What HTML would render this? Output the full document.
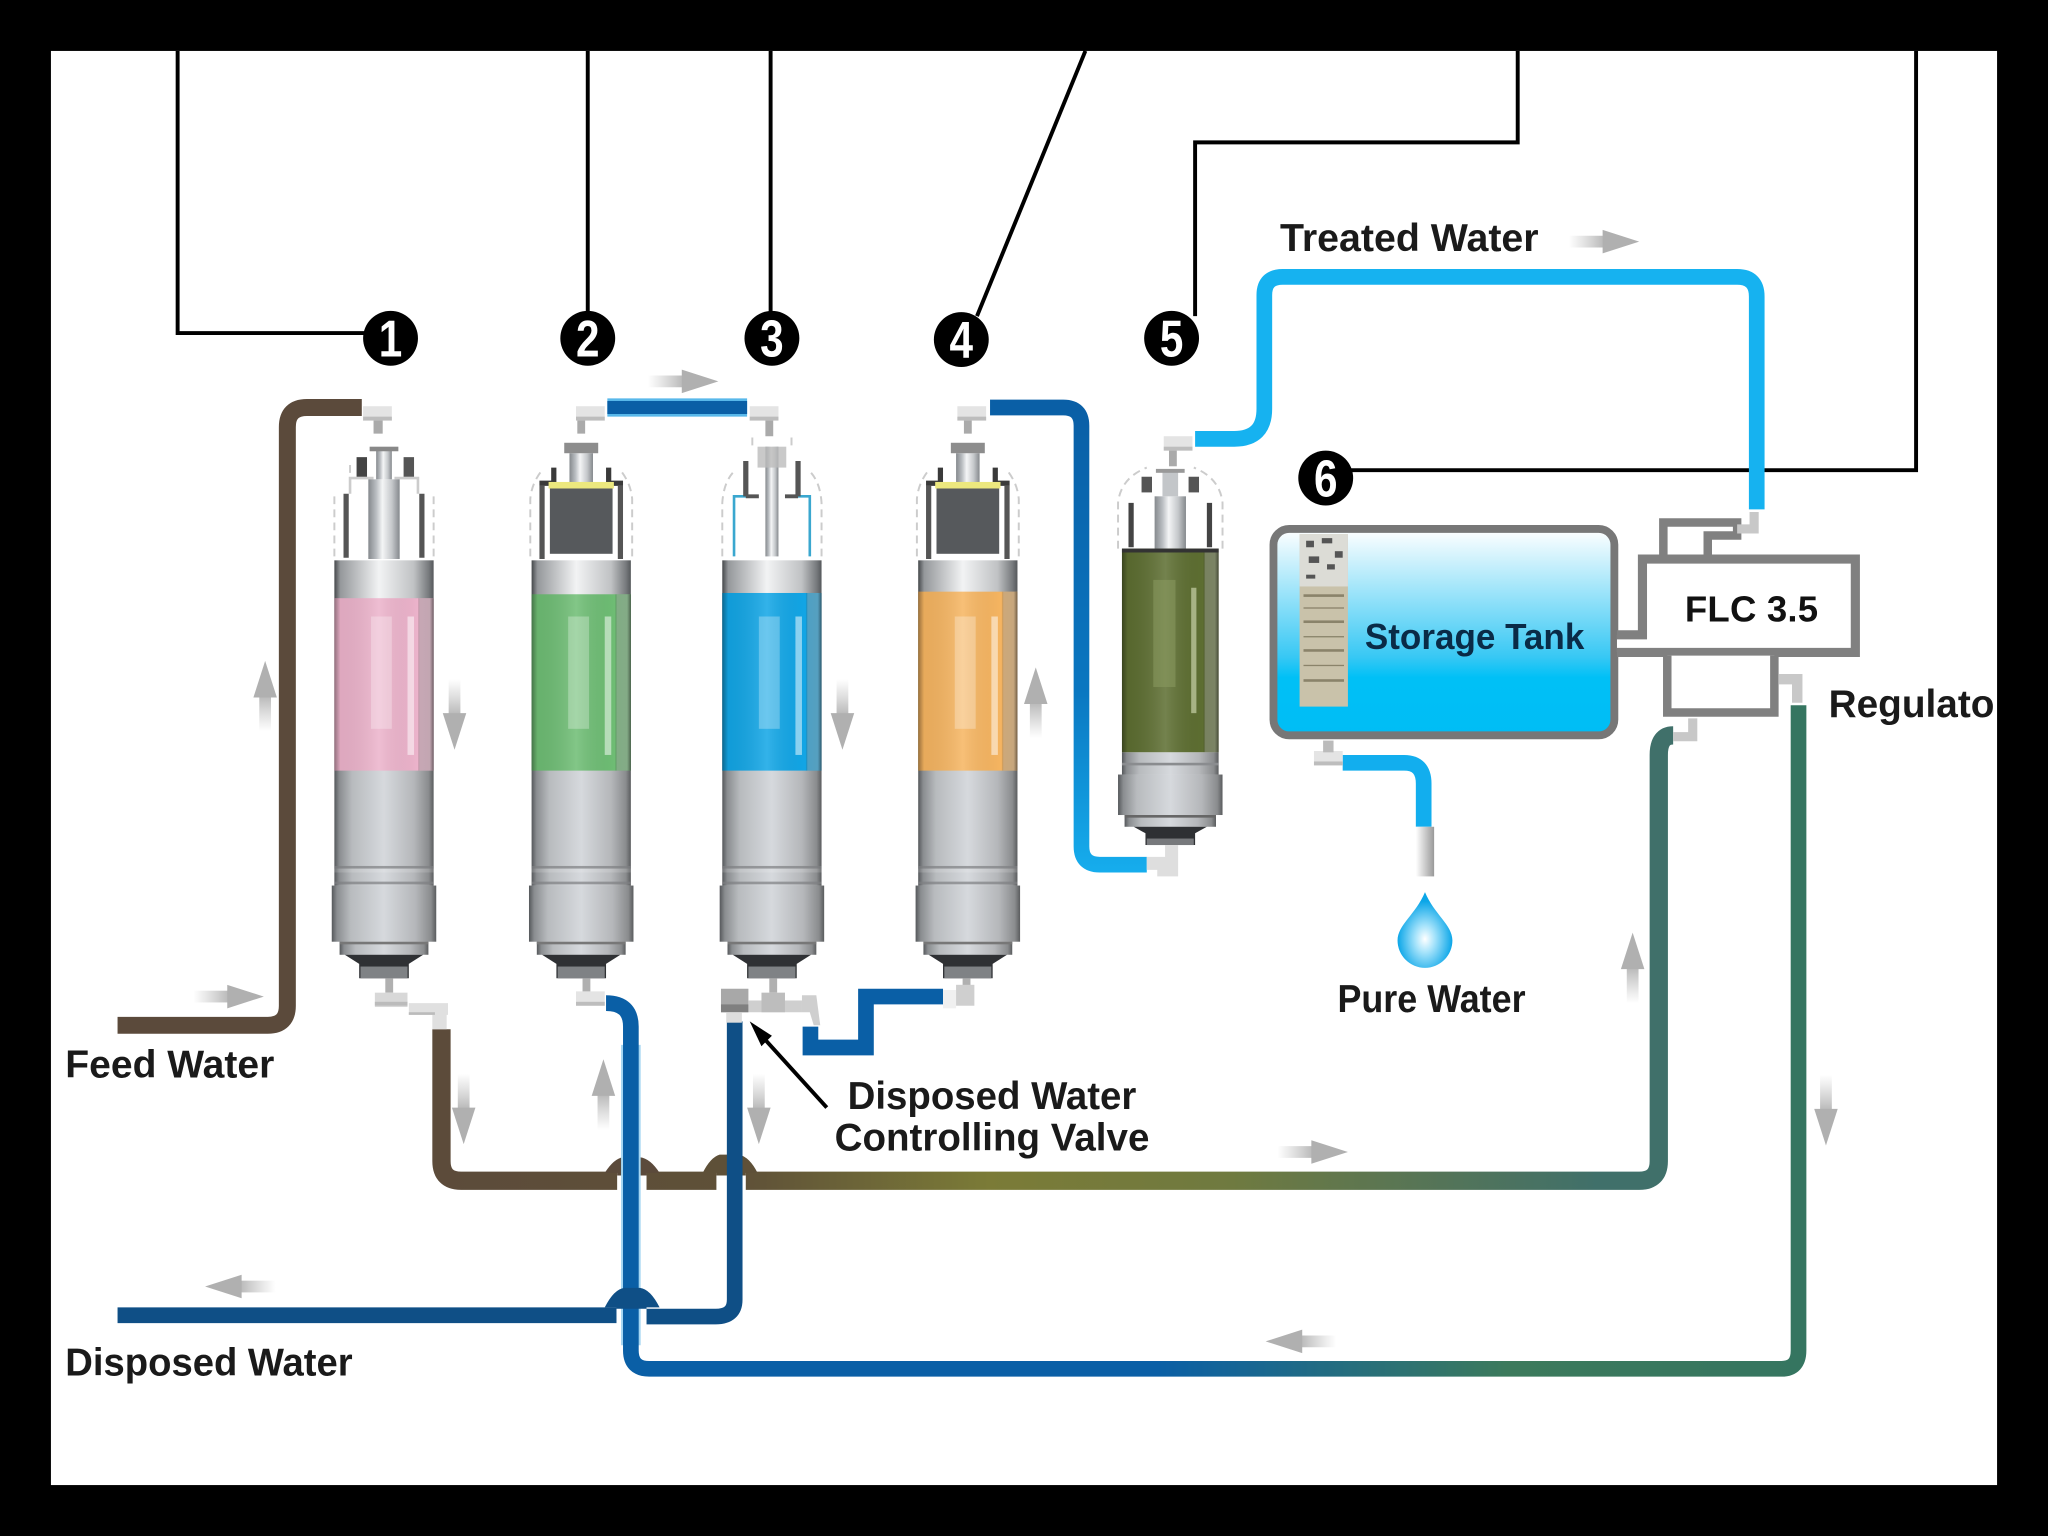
<!DOCTYPE html>
<html><head><meta charset="utf-8"><title>Water Filtration Diagram</title>
<style>html,body{margin:0;padding:0;background:#000;width:2048px;height:1536px;overflow:hidden}svg{display:block}
text{font-family:"Liberation Sans",sans-serif;font-weight:bold}</style></head>
<body>
<svg xmlns="http://www.w3.org/2000/svg" width="2048" height="1536" viewBox="0 0 1568 1176">
<defs>
<linearGradient id="body" x1="0" x2="1" y1="0" y2="0"><stop offset="0" stop-color="#55585b"/><stop offset=".05" stop-color="#8a8d90"/><stop offset=".18" stop-color="#b8bbbe"/><stop offset=".5" stop-color="#d6d9dd"/><stop offset=".8" stop-color="#b5b7ba"/><stop offset=".95" stop-color="#8a8c8e"/><stop offset="1" stop-color="#5a5c5e"/></linearGradient>
<linearGradient id="topb" x1="0" x2="1" y1="0" y2="0"><stop offset="0" stop-color="#45484b"/><stop offset=".06" stop-color="#95989b"/><stop offset=".45" stop-color="#f2f3f4"/><stop offset=".8" stop-color="#c0c2c4"/><stop offset=".95" stop-color="#777a7d"/><stop offset="1" stop-color="#55585b"/></linearGradient>
<linearGradient id="stemg" x1="0" x2="1" y1="0" y2="0"><stop offset="0" stop-color="#85898d"/><stop offset=".25" stop-color="#b9bdc1"/><stop offset=".45" stop-color="#f4f5f6"/><stop offset=".75" stop-color="#c5c8cb"/><stop offset="1" stop-color="#85898d"/></linearGradient>
<linearGradient id="shade" x1="0" x2="1" y1="0" y2="0"><stop offset="0" stop-color="#000" stop-opacity=".38"/><stop offset=".06" stop-color="#000" stop-opacity=".06"/><stop offset=".45" stop-color="#fff" stop-opacity=".14"/><stop offset=".84" stop-color="#000" stop-opacity="0"/><stop offset=".86" stop-color="#999" stop-opacity=".45"/><stop offset=".96" stop-color="#999" stop-opacity=".5"/><stop offset="1" stop-color="#333" stop-opacity=".7"/></linearGradient>
<linearGradient id="tank" x1="0" x2="0" y1="0" y2="1"><stop offset="0" stop-color="#fff"/><stop offset=".62" stop-color="#38c8f4"/><stop offset=".72" stop-color="#00c0f6"/><stop offset="1" stop-color="#00bdf5"/></linearGradient>
<linearGradient id="brownPipe" gradientUnits="userSpaceOnUse" x1="338" y1="0" x2="1270" y2="0"><stop offset="0" stop-color="#5c4b3a"/><stop offset=".25" stop-color="#5f5138"/><stop offset=".45" stop-color="#7b7b37"/><stop offset=".65" stop-color="#6f7a40"/><stop offset=".95" stop-color="#40706a"/><stop offset="1" stop-color="#40706a"/></linearGradient>
<linearGradient id="bluePipe" gradientUnits="userSpaceOnUse" x1="482" y1="0" x2="1378" y2="0"><stop offset="0" stop-color="#0a5fa6"/><stop offset=".45" stop-color="#0a5fa6"/><stop offset=".75" stop-color="#3c7a5c"/><stop offset="1" stop-color="#357560"/></linearGradient>
<linearGradient id="b45" gradientUnits="userSpaceOnUse" x1="0" y1="312" x2="0" y2="670"><stop offset="0" stop-color="#0a5fa6"/><stop offset=".6" stop-color="#0a76c0"/><stop offset="1" stop-color="#16aeee"/></linearGradient>
<linearGradient id="tail" x1="0" x2="1" y1="0" y2="0"><stop offset="0" stop-color="#bbb" stop-opacity="0"/><stop offset="1" stop-color="#b0b0b0"/></linearGradient>
<radialGradient id="drop" cx=".5" cy=".62" r=".5"><stop offset="0" stop-color="#fff"/><stop offset=".35" stop-color="#a8e4fb"/><stop offset="1" stop-color="#0ba6e8"/></radialGradient>
<linearGradient id="spout" x1="0" x2="1" y1="0" y2="0"><stop offset="0" stop-color="#fff"/><stop offset="1" stop-color="#999"/></linearGradient>

<g id="arrow"><rect x="-30" y="-4.5" width="30" height="9" fill="url(#tail)"/><path d="M-4-9 L24 0 L-4 9Z" fill="#b0b0b0"/></g>
<g id="fit"><rect x="-11" y="-6" width="22" height="11" fill="#e4e4e4"/><rect x="-11" y="2" width="22" height="3" fill="#bdbdbd"/></g>

<g id="cyl">
 <rect x="-38" y="429" width="76" height="40" fill="url(#topb)"/>
 <rect x="-38" y="469" width="76" height="209" fill="url(#body)"/>
 <rect x="-38" y="663" width="76" height="2" fill="#7d7f82" opacity=".7"/>
 <rect x="-38" y="665" width="76" height="3" fill="#fff" opacity=".15"/>
 <rect x="-38" y="675" width="76" height="2" fill="#7d7f82" opacity=".7"/>
 <rect x="-40" y="678" width="80" height="43" fill="url(#body)"/>
 <rect x="-34" y="721" width="68" height="10" fill="url(#body)"/>
 <rect x="-34" y="721" width="68" height="2" fill="#777"/>
 <path d="M-30 731H30L19 738V749H-19V738Z" fill="#2f3134"/>
 <rect x="-18" y="740" width="36" height="9" fill="#7f8285"/>
</g>
<g id="domeA" fill="none">
 <path d="M-38 426V380M38 426V380M-26 362L-26 352" stroke="#ccc" stroke-width="1.5" stroke-dasharray="6 4"/>
 <path d="M-26 378V366H-8M26 378V366H8" stroke="#ccc" stroke-width="2"/>
 <path d="M-29 378V427M29 378V427" stroke="#555" stroke-width="4"/>
 <rect x="-21" y="350" width="8" height="15" fill="#444"/><rect x="15" y="350" width="8" height="15" fill="#555"/>
 <rect x="-6" y="345" width="12" height="22" fill="url(#stemg)"/>
 <rect x="-11" y="342" width="22" height="3.5" fill="#888"/>
 <rect x="-12" y="367" width="24" height="61" fill="url(#stemg)"/>
</g>
<g id="domeB" fill="none">
 <path d="M-39 426V382Q-38 370-30 360M39 426V382Q38 370 30 360" stroke="#ccc" stroke-width="1.5" stroke-dasharray="6 4"/>
 <path d="M-30 372V428M30 372V428" stroke="#555" stroke-width="4"/>
 <path d="M-32 370H-21V358M32 370H21V358" stroke="#3a3a3a" stroke-width="4"/>
 <rect x="-9" y="347" width="18" height="24" fill="url(#stemg)"/>
 <rect x="-13" y="339" width="26" height="8" fill="#8d8d8d"/>
 <rect x="-25" y="369" width="50" height="5" fill="#ece87e"/>
 <rect x="-24" y="374" width="48" height="50" fill="#56595c"/>
</g>
<g id="domeC" fill="none">
 <path d="M-38 426V385Q-37 370-30 362M38 426V385Q37 370 30 362M-15 335V345M15 335V345" stroke="#ccc" stroke-width="1.5" stroke-dasharray="6 4"/>
 <path d="M-29 426V380H-19M29 426V380H19" stroke="#3aa7cf" stroke-width="2"/>
 <path d="M-20 380V353M20 380V353" stroke="#555" stroke-width="4"/><path d="M-20 380H-10M20 380H10" stroke="#555" stroke-width="3"/>
 <rect x="-5" y="342" width="10" height="84" fill="url(#stemg)"/>
 <rect x="-11" y="342" width="22" height="16" fill="#bbb" opacity=".8"/>
</g>
<g id="lbl" fill="#fff">
 <rect x="18" y="472" width="5" height="106" opacity=".5"/><rect x="-10" y="472" width="16" height="86" opacity=".28"/>
</g>
</defs>

<rect width="1568" height="1176" fill="#000"/>
<rect x="39" y="39" width="1490" height="1098" fill="#fff"/>

<!-- leader lines -->
<g fill="none" stroke="#000" stroke-width="3">
 <path d="M136 39V255H282"/>
 <path d="M450 39V242"/>
 <path d="M590 39V242"/>
 <path d="M831 39L748 242"/>
 <path d="M1162 39V109H915V242"/>
 <path d="M1467 39V360H1032"/>
</g>

<!-- filters -->
<g transform="translate(294,0)">
 <use href="#domeA"/><use href="#cyl"/>
 <rect x="-38" y="458" width="76" height="132" fill="#ecb3cb"/><rect x="-38" y="458" width="76" height="132" fill="url(#shade)"/>
 <use href="#lbl"/>
</g>
<g transform="translate(445,0)">
 <use href="#domeB"/><use href="#cyl"/>
 <rect x="-38" y="455" width="76" height="135" fill="#6ebd74"/><rect x="-38" y="455" width="76" height="135" fill="url(#shade)"/>
 <use href="#lbl"/>
</g>
<g transform="translate(591,0)">
 <use href="#domeC"/><use href="#cyl"/>
 <rect x="-38" y="454" width="76" height="136" fill="#12a6e6"/><rect x="-38" y="454" width="76" height="136" fill="url(#shade)"/>
 <use href="#lbl"/>
</g>
<g transform="translate(741,0)">
 <use href="#domeB"/><use href="#cyl"/>
 <rect x="-38" y="453" width="76" height="137" fill="#f6b561"/><rect x="-38" y="453" width="76" height="137" fill="url(#shade)"/>
 <use href="#lbl"/>
</g>
<!-- filter 5 -->
<g transform="translate(896,0)">
 <path d="M-40 420V385Q-38 366-18 358M40 420V385Q38 366 18 358" fill="none" stroke="#ccc" stroke-width="1.5" stroke-dasharray="6 4"/>
 <path d="M-30 385V419M30 385V419" stroke="#444" stroke-width="4"/>
 <rect x="-12" y="380" width="24" height="40" fill="url(#stemg)"/><rect x="-6" y="360" width="12" height="20" fill="#c3c6c9"/>
 <rect x="-11" y="359" width="22" height="3" fill="#999"/>
 <rect x="-22" y="365" width="8" height="12" fill="#555"/><rect x="14" y="365" width="8" height="12" fill="#555"/>
 <rect x="-37" y="420" width="74" height="156" fill="#5d6e31"/><rect x="-37" y="420" width="74" height="156" fill="url(#shade)"/>
 <rect x="-37" y="420" width="74" height="3" fill="#333"/>
 <rect x="-13" y="444" width="17" height="82" fill="#8a9a60" opacity=".55"/>
 <rect x="16" y="450" width="4" height="96" fill="#c8d2a8" opacity=".7"/>
 <rect x="-37" y="576" width="74" height="17" fill="url(#body)"/>
 <rect x="-37" y="584" width="74" height="2" fill="#8a8c8f"/>
 <rect x="-40" y="593" width="80" height="31" fill="url(#body)"/>
 <rect x="-35" y="624" width="70" height="9" fill="url(#body)"/>
 <rect x="-35" y="624" width="70" height="2" fill="#666"/>
 <path d="M-28 633H28L19 638V647H-19V638Z" fill="#2e3033"/>
 <rect x="-18" y="642" width="36" height="5" fill="#77797c"/>
</g>

<!-- top fittings -->
<use href="#fit" transform="translate(289,317)"/><rect x="286" y="322" width="7" height="10" fill="#aaa"/>
<use href="#fit" transform="translate(452,317)"/><rect x="442" y="322" width="6" height="10" fill="#aaa"/>
<use href="#fit" transform="translate(585,317)"/><rect x="586" y="322" width="6" height="12" fill="#aaa"/>
<use href="#fit" transform="translate(744,317)"/><rect x="738" y="322" width="6" height="10" fill="#aaa"/>
<use href="#fit" transform="translate(902,340)"/><rect x="895" y="345" width="6" height="12" fill="#aaa"/>

<!-- pipes -->
<g fill="none" stroke-linejoin="round">
 <path d="M90 785H205Q220 785 220 770V327Q220 312 235 312H277" stroke="#5b4a3b" stroke-width="13"/>
 <path d="M465 312H572" stroke="#58b8ea" stroke-width="14"/><path d="M465 312H572" stroke="#0a5fa6" stroke-width="10"/>
 <path d="M758 312H814Q828 312 828 326V648Q828 662 842 662H878" stroke="url(#b45)" stroke-width="12"/>
 <path d="M915 336H945Q968 336 968 313V226Q968 212 982 212H1330Q1345 212 1345 227V390" stroke="#16b2f0" stroke-width="12"/>
 <path d="M1028 584H1075Q1090 584 1090 600V633" stroke="#12aeee" stroke-width="12"/>
 <path d="M338 788V889Q338 904 353 904H472.5M495 904H548.5M571 904H1255Q1270 904 1270 889V578Q1270 563 1281 563" stroke="url(#brownPipe)" stroke-width="14"/>
</g>
<path d="M463 898Q470 887 477 886H490Q498 887 505 898H495V900H472.5V898Z" fill="#5b4a3b"/>
<path d="M538 898Q544 886 551 884H566Q574 886 580 898H571V900H548.5V898Z" fill="#5e5038"/>
<g fill="none" stroke-linejoin="round">
 <path d="M90 1007H472M495 1008H548Q562.5 1008 562.5 995V782" stroke="#0f4f86" stroke-width="12"/>
 <path d="M483 800V1030" stroke="#a5d6f2" stroke-width="15"/>
 <path d="M464 768Q483 768 483 786V1034Q483 1048 497 1048H1364Q1377 1048 1377 1034V540" stroke="url(#bluePipe)" stroke-width="12"/>
</g>
<path d="M463 1001Q470 987 478 986H490Q498 987 505 1001H495V1002H472V1001Z" fill="#0f4f86"/>
<path d="M620.5 786V802H663V763H722" fill="none" stroke="#0a5fa6" stroke-width="12"/>
<rect x="1084" y="633" width="14" height="38" fill="url(#spout)"/>

<!-- bottom fittings -->
<rect x="295" y="749" width="6" height="11" fill="#b0b0b0"/>
<rect x="287" y="760" width="25" height="11" fill="#d8d8d8"/><rect x="287" y="767" width="25" height="3" fill="#bbb"/>
<path d="M313 768H343V777H342V788H331V777H313Z" fill="#e0e0e0"/><rect x="313" y="775" width="20" height="2" fill="#bbb"/>
<rect x="446" y="749" width="6" height="11" fill="#b0b0b0"/>
<use href="#fit" transform="translate(452,765)"/>
<rect x="552" y="757" width="21" height="18" fill="#a8a8a8"/><rect x="552" y="769" width="21" height="6" fill="#808080"/><rect x="556" y="775" width="12" height="8" fill="#ddd"/>
<rect x="589" y="749" width="6" height="11" fill="#b0b0b0"/>
<rect x="573" y="766" width="41" height="9" fill="#cfcfcf"/><rect x="583" y="760" width="18" height="15" fill="#bdbdbd"/>
<path d="M614 762H625L628 785H623L620 775H614Z" fill="#cfcfcf"/>
<rect x="737" y="749" width="6" height="8" fill="#b0b0b0"/>
<rect x="722" y="758" width="10" height="14" fill="#f0f0f0"/><rect x="732" y="754" width="14" height="16" fill="#cfcfcf"/>
<path d="M878 656H892V647H902V671H886V666H878Z" fill="#dedede"/>

<!-- tank -->
<rect x="975" y="405" width="261" height="158" rx="12" fill="url(#tank)" stroke="#777" stroke-width="6"/>
<rect x="995" y="409" width="37" height="132" fill="#c9c2aa"/>
<rect x="995" y="409" width="37" height="40" fill="#dcdcd6"/>
<g fill="#555"><rect x="1000" y="414" width="6" height="5"/><rect x="1012" y="412" width="8" height="4"/><rect x="1022" y="422" width="6" height="5"/><rect x="1002" y="426" width="8" height="5"/><rect x="1016" y="432" width="6" height="4"/><rect x="1000" y="440" width="7" height="3"/></g>
<g fill="#8a836a"><rect x="998" y="455" width="31" height="2"/><rect x="998" y="465" width="31" height="1"/><rect x="998" y="475" width="31" height="2"/><rect x="998" y="487" width="31" height="1"/><rect x="998" y="497" width="31" height="2"/><rect x="998" y="509" width="31" height="1"/><rect x="998" y="520" width="31" height="2"/></g>
<text x="1045" y="497" font-size="28" fill="#0a2b47" textLength="168" lengthAdjust="spacingAndGlyphs">Storage Tank</text>

<!-- FLC -->
<path d="M1273.5 426V400H1330V410H1307.5V426" fill="none" stroke="#808080" stroke-width="6.5"/>
<path d="M1238 486H1257.5V428H1420.5V499.5H1238" fill="#fff" stroke="#808080" stroke-width="7"/>
<path d="M1276.5 502V545.5H1358.5V502" fill="#fff" stroke="#808080" stroke-width="6.5"/>
<text x="1290" y="476" font-size="28" fill="#111" textLength="102" lengthAdjust="spacing">FLC 3.5</text>
<path d="M1330 405H1343V392" fill="none" stroke="#c8c8c8" stroke-width="7"/>
<path d="M1362 520H1376V538" fill="none" stroke="#c8c8c8" stroke-width="8"/>
<path d="M1281 564H1296V550" fill="none" stroke="#c8c8c8" stroke-width="7"/>
<use href="#fit" transform="translate(1017,581)"/><rect x="1013" y="567" width="8" height="9" fill="#bbb"/>
<path d="M1091 683C1084 700 1070 708 1070 720A21 21 0 0 0 1112 720C1112 708 1098 700 1091 683Z" fill="url(#drop)"/>

<!-- labels -->
<g fill="#1a1a1a" font-size="30">
 <text x="980" y="192" textLength="198" lengthAdjust="spacingAndGlyphs">Treated Water</text>
 <text x="50" y="825" textLength="160" lengthAdjust="spacingAndGlyphs">Feed Water</text>
 <text x="50" y="1053" textLength="220" lengthAdjust="spacingAndGlyphs">Disposed Water</text>
 <text x="649" y="849" textLength="221" lengthAdjust="spacingAndGlyphs">Disposed Water</text>
 <text x="639" y="881" textLength="241" lengthAdjust="spacingAndGlyphs">Controlling Valve</text>
 <text x="1024" y="775" textLength="144" lengthAdjust="spacingAndGlyphs">Pure Water</text>
 <text x="1400" y="549" textLength="127" lengthAdjust="spacingAndGlyphs">Regulato</text>
</g>

<!-- numbers -->
<g fill="#000">
 <ellipse cx="299" cy="259" rx="21" ry="21"/><ellipse cx="450" cy="259" rx="21" ry="21"/><ellipse cx="591" cy="259" rx="21" ry="21"/><ellipse cx="736" cy="260" rx="21" ry="21"/><ellipse cx="897" cy="259" rx="21" ry="21"/><ellipse cx="1015" cy="366" rx="21" ry="21"/>
</g>
<g fill="#fff" font-size="40" text-anchor="middle">
 <text x="299" y="273" textLength="18" lengthAdjust="spacingAndGlyphs">1</text><text x="450" y="273" textLength="18" lengthAdjust="spacingAndGlyphs">2</text><text x="591" y="273" textLength="18" lengthAdjust="spacingAndGlyphs">3</text><text x="736" y="274" textLength="18" lengthAdjust="spacingAndGlyphs">4</text><text x="897" y="273" textLength="18" lengthAdjust="spacingAndGlyphs">5</text><text x="1015" y="380" textLength="18" lengthAdjust="spacingAndGlyphs">6</text>
</g>

<!-- grey arrows -->
<use href="#arrow" transform="translate(1231,185)"/>
<use href="#arrow" transform="translate(526,292)"/>
<use href="#arrow" transform="translate(178,763)"/>
<use href="#arrow" transform="translate(1008,882)"/>
<use href="#arrow" transform="translate(181,985) rotate(180)"/>
<use href="#arrow" transform="translate(993,1027) rotate(180)"/>
<use href="#arrow" transform="translate(203,530) rotate(-90)"/>
<use href="#arrow" transform="translate(348,550) rotate(90)"/>
<use href="#arrow" transform="translate(645,550) rotate(90)"/>
<use href="#arrow" transform="translate(793,535) rotate(-90)"/>
<use href="#arrow" transform="translate(355,852) rotate(90)"/>
<use href="#arrow" transform="translate(462,835) rotate(-90)"/>
<use href="#arrow" transform="translate(581,852) rotate(90)"/>
<use href="#arrow" transform="translate(1250,738) rotate(-90)"/>
<use href="#arrow" transform="translate(1398,853) rotate(90)"/>

<!-- valve pointer -->
<path d="M633 848L584 794" stroke="#000" stroke-width="3"/>
<path d="M574 782L591 793L583 801Z" fill="#000"/>
</svg>
</body></html>
